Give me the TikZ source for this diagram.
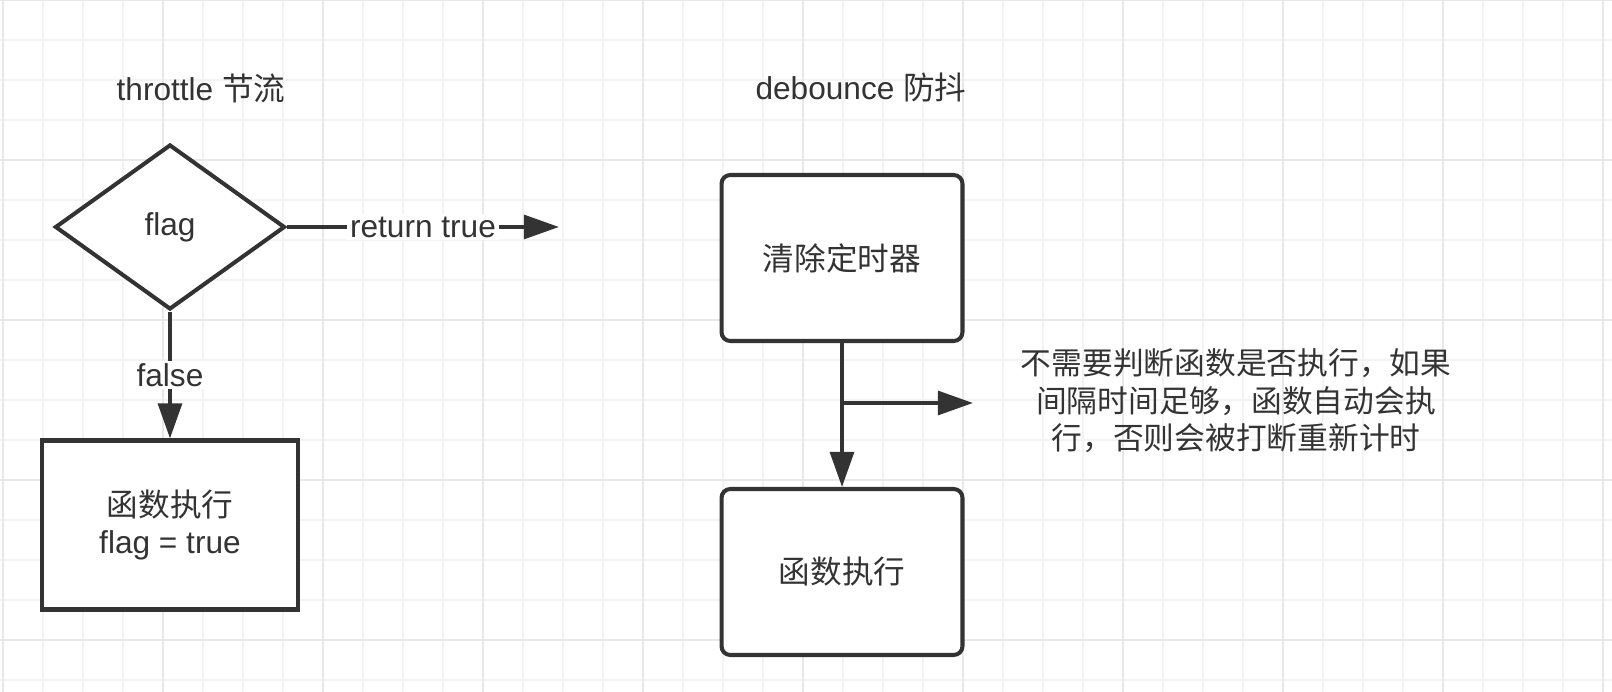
\documentclass[tikz,border=0pt]{standalone}
\usepackage{fontspec}
\setmainfont{Liberation Sans}
\newfontfamily\cjk{Noto Sans CJK SC}
\usetikzlibrary{shapes.geometric,arrows.meta}
\definecolor{ink}{HTML}{333333}
\definecolor{gridminor}{HTML}{F3F3F3}
\definecolor{gridmajor}{HTML}{E8E8E8}

\begin{document}
\begin{tikzpicture}[x=0.02cm,y=-0.02cm,
	every node/.style={text=ink,font=\fontsize{18pt}{21.5pt}\selectfont},
	box/.style={draw=ink,line width=2.3pt,fill=white,minimum width=5.14cm,minimum height=3.38cm},
	rbox/.style={box,rounded corners=5pt,minimum width=4.82cm,minimum height=3.32cm},
	test/.style={diamond,draw=ink,line width=2.3pt,fill=white,inner sep=0pt,minimum width=4.6cm,minimum height=3.3cm},
	conn/.style={draw=ink,line width=2.3pt,-{Triangle[length=20pt,width=13.5pt]}},
	lbl/.style={fill=white,inner sep=1.5pt}]
	\useasboundingbox[fill=white] (0,0) rectangle (1612,692);
	% grid
	\foreach \x in {3,43,...,1603} \draw[gridminor,line width=0.6pt] (\x,0) -- (\x,692);
	\foreach \y in {0,40,...,680} \draw[gridminor,line width=0.6pt] (0,\y) -- (1612,\y);
	\foreach \x in {3,163,...,1603} \draw[gridmajor,line width=0.8pt] (\x,0) -- (\x,692);
	\foreach \y in {0,160,...,640} \draw[gridmajor,line width=0.8pt] (0,\y) -- (1612,\y);
	% throttle
	\node (T) at (201,88) {throttle {\cjk 节流}};
	\node[test] (flag) at (170,227) {flag};
	\node[box,align=center] (run) at (170,525) {{\cjk 函数执行}\\flag = true};
	\coordinate (ret) at (559,227);
	\path (flag) edge[conn] node[lbl] {return true} (ret);
	\path (flag) edge[conn] node[lbl] {false} (run);
	% debounce
	\node (D) at (861,88) {debounce {\cjk 防抖}};
	\node[rbox] (clear) at (842,258) {\cjk 清除定时器};
	\node[rbox] (exec) at (842,572) {\cjk 函数执行};
	\coordinate (split) at (842,403);
	\coordinate (out) at (973,403);
	\node[align=center,font=\cjk\fontsize{17.5pt}{21.3pt}\selectfont] (note) at (1236,401)
		{不需要判断函数是否执行，如果\\间隔时间足够，函数自动会执\\行，否则会被打断重新计时};
	\path (clear) edge[conn] (exec);
	\path (split) edge[conn] (out);
\end{tikzpicture}
\end{document}
